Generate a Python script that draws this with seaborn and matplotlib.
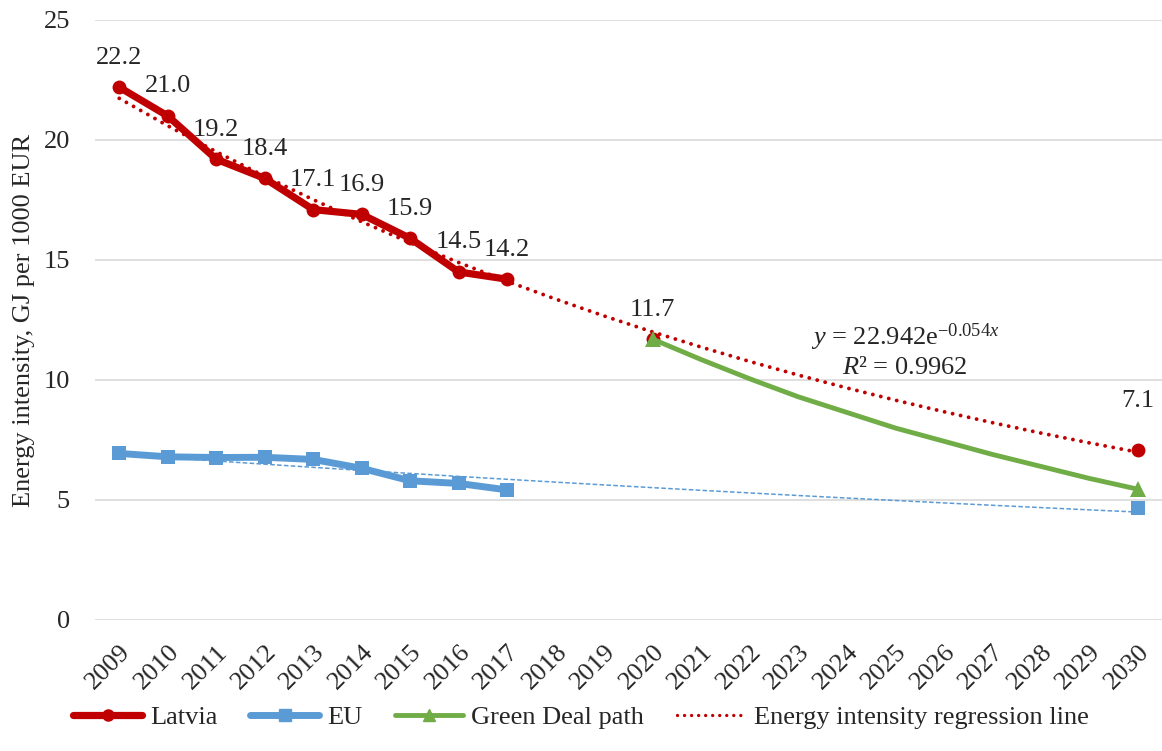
import numpy as np
import pandas as pd
import seaborn as sns
import matplotlib.pyplot as plt
from matplotlib.lines import Line2D

sns.set_style("white")
plt.rcParams['font.family'] = ['Liberation Serif', 'DejaVu Serif']
plt.rcParams['mathtext.fontset'] = 'custom'
plt.rcParams['mathtext.rm'] = 'Liberation Serif'
plt.rcParams['mathtext.it'] = 'Liberation Serif:italic'
plt.rcParams['font.size'] = 19

# data
years = list(range(2009, 2031))
latvia_years = [2009, 2010, 2011, 2012, 2013, 2014, 2015, 2016, 2017]
latvia_vals = [22.2, 21.0, 19.2, 18.4, 17.1, 16.9, 15.9, 14.5, 14.2]
latvia_goal_years = [2020, 2030]
latvia_goal_vals = [11.7, 7.1]
eu_years = [2009, 2010, 2011, 2012, 2013, 2014, 2015, 2016, 2017]
eu_vals = [6.94, 6.80, 6.77, 6.78, 6.69, 6.32, 5.80, 5.69, 5.42]
eu_goal_years = [2030]
eu_goal_vals = [4.68]
green_years = [2020, 2021, 2022, 2023, 2024, 2025, 2026, 2027, 2028, 2029, 2030]
green_vals = [11.7, 10.85, 10.05, 9.3, 8.65, 8.0, 7.45, 6.9, 6.4, 5.9, 5.45]
# regression shown on the chart: y = 22.942 e^(-0.054 x), x = 1 for 2009
trend_a, trend_b = 22.942, -0.054

red = '#C00000'
blue = '#5B9BD5'
green = '#70AD47'

fig = plt.figure(figsize=(11.62, 7.51), dpi=100)
ax = fig.add_axes([95/1162, 1-620/751, 1-95/1162, 600/751])

xi = np.array(years) - 2008
lv_trend = pd.DataFrame({'year': years, 'val': trend_a*np.exp(trend_b*xi)})

# EU trend: exponential fit of the EU points (like the Excel trendline)
eu_x = np.array(eu_years + eu_goal_years) - 2008
eu_y = np.array(eu_vals + eu_goal_vals)
b_eu, ln_a_eu = np.polyfit(eu_x, np.log(eu_y), 1)
eu_trend = pd.DataFrame({'year': years, 'val': np.exp(ln_a_eu)*np.exp(b_eu*xi)})

sns.lineplot(data=eu_trend, x='year', y='val', ax=ax, color=blue, linewidth=1.1,
             linestyle=(0, (3, 1.5)), zorder=2)
sns.lineplot(data=lv_trend, x='year', y='val', ax=ax, color=red, linewidth=2.8,
             linestyle=(0, (0.01, 2.1)), dash_capstyle='round', zorder=2)

sns.lineplot(x=eu_years, y=eu_vals, ax=ax, color=blue, linewidth=5.0, marker='s',
             markersize=10, markeredgewidth=0, solid_capstyle='round', zorder=3)
sns.lineplot(x=eu_goal_years, y=eu_goal_vals, ax=ax, color=blue, marker='s',
             markersize=10, markeredgewidth=0, linewidth=0, zorder=3)

sns.lineplot(x=latvia_years, y=latvia_vals, ax=ax, color=red, linewidth=5.2, marker='o',
             markersize=10, markeredgewidth=0, solid_capstyle='round', zorder=4)
sns.lineplot(x=latvia_goal_years, y=latvia_goal_vals, ax=ax, color=red, marker='o',
             markersize=10, markeredgewidth=0, linewidth=0, zorder=4)

sns.lineplot(x=green_years, y=green_vals, ax=ax, color=green, linewidth=3.5,
             solid_capstyle='round', zorder=5)
sns.lineplot(x=[green_years[0], green_years[-1]], y=[green_vals[0], green_vals[-1]], ax=ax,
             color=green, marker='^', markersize=11, markeredgewidth=0, linewidth=0, zorder=5)

label_lift = {2030: 14}
for yr, v in zip(latvia_years + latvia_goal_years, latvia_vals + latvia_goal_vals):
    ax.annotate(f'{v:.1f}', (yr, v), xytext=(0, 17 + label_lift.get(yr, 0)),
                textcoords='offset points', ha='center', va='baseline', fontsize=19)

ax.text(2025.2, 11.8, r'$\mathit{y}$ = 22.942e$^{\mathrm{-0.054}\mathit{x}}$',
        ha='center', va='center', fontsize=19)
ax.text(2025.2, 10.5, r'$\mathit{R}$² = 0.9962', ha='center', va='center', fontsize=19)

ax.set_xlim(2008.5, 2030.5)
ax.set_ylim(0, 25)
ax.set_yticks([0, 5, 10, 15, 20, 25])
ax.set_xticks(years)
ax.set_xticklabels([str(y) for y in years], rotation=45, ha='right', rotation_mode='anchor')
ax.tick_params(axis='x', length=0, pad=15, labelsize=19)
ax.tick_params(axis='y', length=0, pad=18, labelsize=19)
ax.grid(axis='y', color='#D9D9D9', linewidth=1.2)
ax.set_axisbelow(True)
for s in ax.spines.values():
    s.set_visible(False)
ax.set_xlabel('')
ax.set_ylabel('Energy intensity, GJ per 1000 EUR', fontsize=19)
ax.yaxis.set_label_coords(-0.056, 0.5)

handles = [
    Line2D([], [], color=red, linewidth=5.2, marker='o', markersize=8, solid_capstyle='round'),
    Line2D([], [], color=blue, linewidth=5.0, marker='s', markersize=8, solid_capstyle='round'),
    Line2D([], [], color=green, linewidth=3.5, marker='^', markersize=9, solid_capstyle='round'),
    Line2D([], [], color=red, linewidth=2.4, linestyle=(0, (0.01, 2.1)), dash_capstyle='round'),
]
labels = ['Latvia', 'EU', 'Green Deal path', 'Energy intensity regression line']
fig.legend(handles, labels, loc='center', bbox_to_anchor=(0.5, 1-717/751), ncol=4,
           frameon=False, handlelength=2.6, handletextpad=0.3, columnspacing=1.25, fontsize=19)

fig.savefig('out.png', dpi=100)
